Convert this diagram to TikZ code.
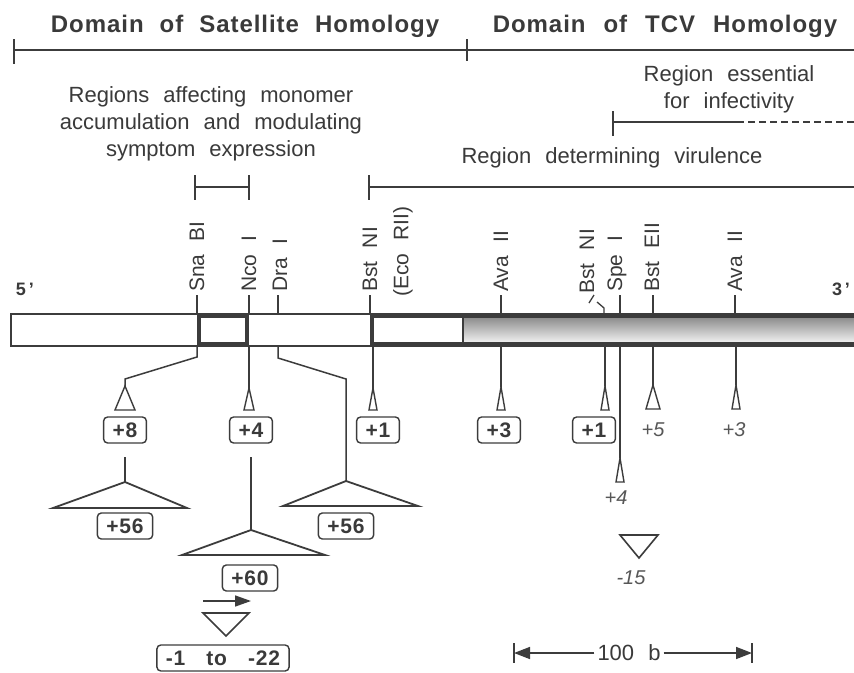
\documentclass[tikz,border=0pt]{standalone}
\usepackage{fontspec}
\setmainfont{Liberation Sans}
\newfontfamily\titlefont[LetterSpace=4]{Liberation Sans}
\newfontfamily\labfont[WordSpace=2.3]{Liberation Sans}
\newfontfamily\boxfont[LetterSpace=4]{Liberation Sans}
\usetikzlibrary{arrows.meta}
\definecolor{ink}{HTML}{3C3C3C}
\definecolor{txt}{HTML}{3A3A3A}
\definecolor{shade}{HTML}{C4C4C4}
\begin{document}
\begin{tikzpicture}[x=1pt,y=-1pt,line join=miter,
  ln/.style={draw=ink,line width=1.5pt},
  thick box/.style={draw=ink,line width=4.5pt},
  lbl/.style={font=\labfont\fontsize{22}{27}\selectfont,text=txt,inner sep=0pt},
  rot/.style={font=\labfont\fontsize{21}{24}\selectfont,text=txt,inner sep=0pt,rotate=90,anchor=west},
  ttl/.style={font=\titlefont\bfseries\fontsize{24}{28}\selectfont,text=txt,inner sep=0pt,anchor=base},
  bx/.style={draw=ink,line width=1.4pt,rounded corners=4pt,text=txt,
    font=\boxfont\bfseries\fontsize{21}{22}\selectfont,inner xsep=9pt,inner ysep=0pt,
    minimum height=26pt},
  itl/.style={font=\labfont\itshape\fontsize{20}{22}\selectfont,text=txt!85,inner sep=0pt},
  tri/.style={ln,line width=1.4pt,fill=white},
  bigtri/.style={ln,line width=1.8pt}]
\useasboundingbox[fill=white] (0,0) rectangle (854,672);

% titles
\node[ttl] (t1) at (245,32) {Domain\hspace{16pt}of\hspace{16pt}Satellite\hspace{16pt}Homology};
\node[ttl] (t2) at (665,32) {Domain\hspace{18pt}of\hspace{18pt}TCV\hspace{18pt}Homology};
\coordinate (dl) at (14,50);
\coordinate (dr) at (854,50);
\draw[ln] (dl) -- (dr);
\draw[ln] (14,39) -- (14,64);
\draw[ln] (467,39) -- (467,61);

% region texts
\node[lbl,align=center] (reg1) at (211,124) {Regions affecting monomer\\accumulation and modulating\\symptom expression};
\node[lbl,align=center] (reg2) at (729,89) {Region essential\\for infectivity};
\node[lbl] (reg3) at (612,158) {Region determining virulence};

% brackets
\draw[ln] (195,187) -- (249,187);
\draw[ln] (195,175) -- (195,200);
\draw[ln] (249,175) -- (249,200);
\draw[ln] (369,187) -- (854,187);
\draw[ln] (369,175) -- (369,200);
\draw[ln] (613,111) -- (613,136);
\draw[ln] (613,122) -- (737,122);
\draw[ln,dash pattern=on 7pt off 4pt] (737,122) -- (854,122);

% ends
\node[font=\bfseries\fontsize{18}{20}\selectfont,text=txt] (p5) at (25,289) {5\,'};
\node[font=\bfseries\fontsize{18}{20}\selectfont,text=txt] (p3) at (841,289) {3\,'};

% bar
\fill[shade] (463,314) rectangle (856,346);
\draw[ln,line width=1.6pt] (856,314) -- (11,314) -- (11,346) -- (856,346);
\draw[thick box] (199,316) rectangle (247,344);
\draw[thick box] (856,316) -- (372,316) -- (372,344) -- (856,344);
\draw[ln,line width=1.4pt] (463,316) -- (463,344);

% site labels and ticks
\node[rot] (sna) at (197,292) {Sna BI};
\node[rot] (nco) at (249,292) {Nco I};
\node[rot] (dra) at (280,292) {Dra I};
\node[rot] (bst1) at (370,292) {Bst NI};
\node[rot] (eco) at (403,297) {(Eco RII)};
\node[rot] (ava1) at (501,292) {Ava II};
\node[rot] (bst2) at (587,294) {Bst NI};
\node[rot] (spe) at (617,292) {Spe I};
\node[rot] (bste) at (652,292) {Bst EII};
\node[rot] (ava2) at (735,292) {Ava II};
\foreach \x in {197,249,278,370,501,620,653,735}
  \draw[ln,line width=1.3pt] (\x,295) -- (\x,314);
\draw[ln,line width=1.3pt] (589,303) -- (594,295);
\draw[ln,line width=1.3pt] (597,302) -- (604,308) -- (604,314);

% Sna BI insertion
\draw[ln] (197,346) -- (197,357) -- (125,379) -- (125,386);
\draw[tri] (125,386) -- (135,410) -- (115,410) -- cycle;
\node[bx] (b8) at (125,430) {+8};
\draw[ln] (125,457) -- (125,482);
\draw[bigtri] (125,482) -- (187,508) -- (53,508) -- cycle;
\node[bx] (b56a) at (125,526) {+56};

% Nco I insertion
\draw[ln] (249,346) -- (249,388);
\draw[tri] (249,388) -- (254,410) -- (244,410) -- cycle;
\node[bx] (b4) at (251,430) {+4};
\draw[ln] (251,457) -- (251,530);
\draw[bigtri] (251,530) -- (325,555) -- (182,555) -- cycle;
\node[bx] (b60) at (250,578) {+60};
\draw[ln,-{Triangle[length=16pt,width=11pt]}] (203,601) -- (251,601);
\draw[ln,line width=1.6pt] (203,613) -- (249,613) -- (226,636) -- cycle;
\node[bx] (bdel) at (223,658) {-1\hspace{21pt}to\hspace{21pt}-22};

% Dra I insertion
\draw[ln] (278,346) -- (278,358) -- (346,379) -- (346,481);
\draw[bigtri] (346,481) -- (418,506) -- (283,506) -- cycle;
\node[bx] (b56b) at (346,526) {+56};

% Bst NI insertion
\draw[ln] (373,346) -- (373,388);
\draw[tri] (373,388) -- (377,410) -- (369,410) -- cycle;
\node[bx] (b1a) at (378,430) {+1};

% TCV region insertions
\draw[ln] (501,346) -- (501,387);
\draw[tri] (501,387) -- (505,410) -- (497,410) -- cycle;
\node[bx] (b3) at (499,430) {+3};

\draw[ln] (605,346) -- (605,386);
\draw[tri] (605,386) -- (609,410) -- (601,410) -- cycle;
\node[bx] (b1b) at (594,430) {+1};

\draw[ln] (620,346) -- (620,458);
\draw[tri] (620,458) -- (624,482) -- (616,482) -- cycle;
\node[itl] (i4) at (616,498) {+4};

\draw[ln] (653,346) -- (653,385);
\draw[tri] (653,385) -- (660,409) -- (646,409) -- cycle;
\node[itl] (i5) at (653,430) {+5};

\draw[ln] (736,346) -- (736,385);
\draw[tri] (736,385) -- (740,409) -- (732,409) -- cycle;
\node[itl] (i3) at (734,430) {+3};

\draw[ln,line width=1.6pt] (620,535) -- (658,535) -- (639,558) -- cycle;
\node[itl] (i15) at (631,578) {-15};

% scale bar
\node[lbl,inner xsep=3pt] (sc) at (629,653) {100 b};
\coordinate (sl) at (514,653);
\coordinate (sr) at (752,653);
\draw[ln] (514,643) -- (514,663);
\draw[ln] (752,643) -- (752,663);
\draw[ln,-{Triangle[length=16pt,width=12pt]}] (sc.west) -- (sl);
\draw[ln,-{Triangle[length=16pt,width=12pt]}] (sc.east) -- (sr);
\end{tikzpicture}
\end{document}
